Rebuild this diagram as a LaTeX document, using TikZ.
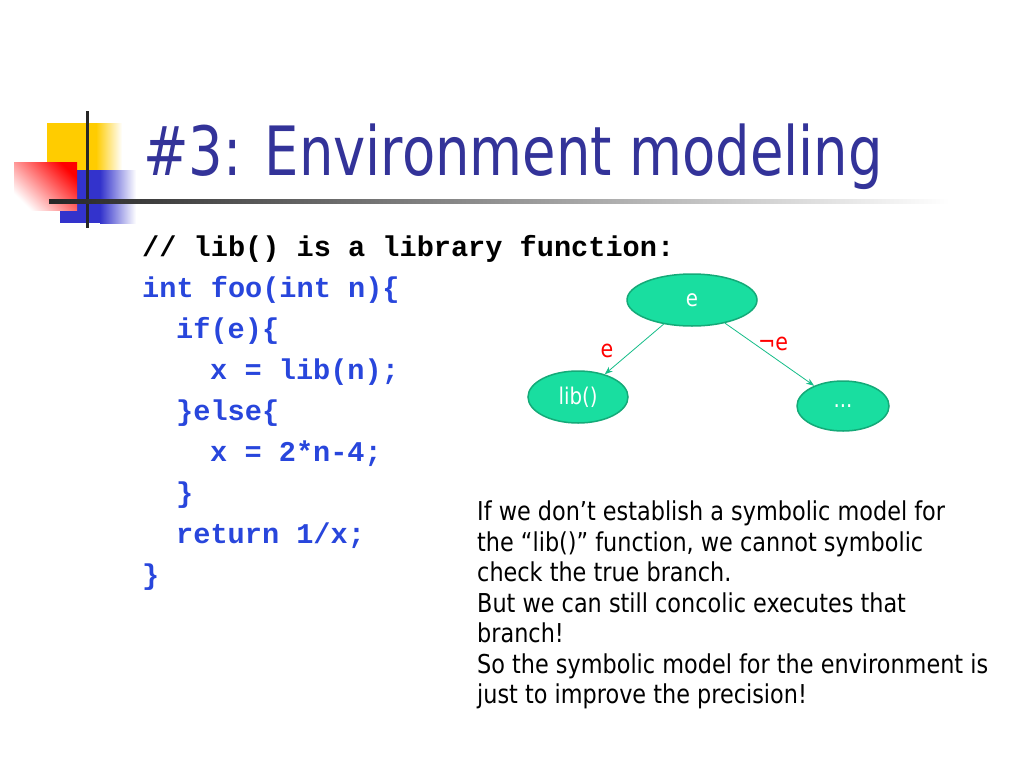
\documentclass[tikz,border=0pt]{standalone}
\usepackage{fontspec}
\setmainfont{DejaVu Sans}[FakeStretch=0.86]
\setmonofont{Liberation Mono}
\newfontfamily\titlefont{DejaVu Sans}[FakeStretch=0.8]
\usetikzlibrary{shapes.geometric, arrows.meta}

\definecolor{titleblue}{RGB}{51,51,153}
\definecolor{codeblue}{RGB}{40,70,220}
\definecolor{leafgreen}{RGB}{25,222,160}
\definecolor{rimgreen}{RGB}{20,170,120}
\definecolor{logoyellow}{RGB}{255,204,0}
\definecolor{logoblue}{RGB}{51,51,204}

\begin{document}
\begin{tikzpicture}[x=1pt, y=-1pt,
    code/.style={anchor=base west, inner sep=0pt, font=\fontsize{28.6}{30}\selectfont\ttfamily\bfseries, text=codeblue},
    note/.style={anchor=base west, inner sep=0pt, font=\fontsize{26}{30}\selectfont},
    leaf/.style={ellipse, draw=rimgreen, line width=1.5pt, fill=leafgreen, text=white, inner sep=0pt, font=\fontsize{23}{25}\selectfont},
    branch/.style={draw=leafgreen!85!black, line width=0.8pt, -{Stealth[length=8pt, width=6pt]}},
    cond/.style={text=red, inner sep=0pt, font=\fontsize{24}{26}\selectfont}]
    \useasboundingbox (0,0) rectangle (1024,768);
    \fill[white] (0,0) rectangle (1024,768);

    % logo
    \begin{scope}
      \fill[logoyellow] (47,123) rectangle (96,170);
      \shade[left color=logoyellow, right color=white] (96,123) rectangle (122,170);
      \fill[logoblue] (60,170) rectangle (100,223);
      \shade[left color=logoblue, right color=white] (100,170) rectangle (136,223);
      \shade[top color=red, bottom color=white, shading angle=-45] (14,162) rectangle (77,210);
      \fill[black!85] (85.5,111) rectangle (88.5,228);
      \shade[left color=black!85, right color=white] (49,199) rectangle (950,203);
    \end{scope}

    % title
    \node[anchor=base west, inner sep=0pt, text=titleblue, font=\fontsize{68}{70}\selectfont\titlefont] (title) at (143,175) {\#3: Environment modeling};

    % code
    \node[code, text=black] (c1) at (142,256.5) {// lib() is a library function:};
    \node[code] (c2) at (142,297.5) {int foo(int n)\{};
    \node[code] (c3) at (176,338.5) {if(e)\{};
    \node[code] (c4) at (210,379.5) {x = lib(n);};
    \node[code] (c5) at (176,420.5) {\}else\{};
    \node[code] (c6) at (210,461.5) {x = 2*n-4;};
    \node[code] (c7) at (176,502.5) {\}};
    \node[code] (c8) at (176,543.5) {return 1/x;};
    \node[code] (c9) at (142,584.5) {\}};

    % tree
    \node[leaf, minimum width=130pt, minimum height=52pt] (root) at (692,300) {e};
    \node[leaf, minimum width=100pt, minimum height=52pt] (lib) at (578,397) {lib()};
    \node[leaf, minimum width=92pt, minimum height=50pt] (rest) at (843,406) {...};
    \draw[branch] (root) -- (lib);
    \draw[branch] (root) -- (rest);
    \node[cond] (yes) at (607,351) {e};
    \node[cond] (no) at (773,344) {¬e};

    % remark
    \node[note] (n1) at (477,520.5) {If we don’t establish a symbolic model for};
    \node[note] (n2) at (477,551) {the “lib()” function, we cannot symbolic};
    \node[note] (n3) at (477,581.5) {check the true branch.};
    \node[note] (n4) at (477,612) {But we can still concolic executes that};
    \node[note] (n5) at (477,642.5) {branch!};
    \node[note] (n6) at (477,673) {So the symbolic model for the environment is};
    \node[note] (n7) at (477,703.5) {just to improve the precision!};
\end{tikzpicture}
\end{document}
